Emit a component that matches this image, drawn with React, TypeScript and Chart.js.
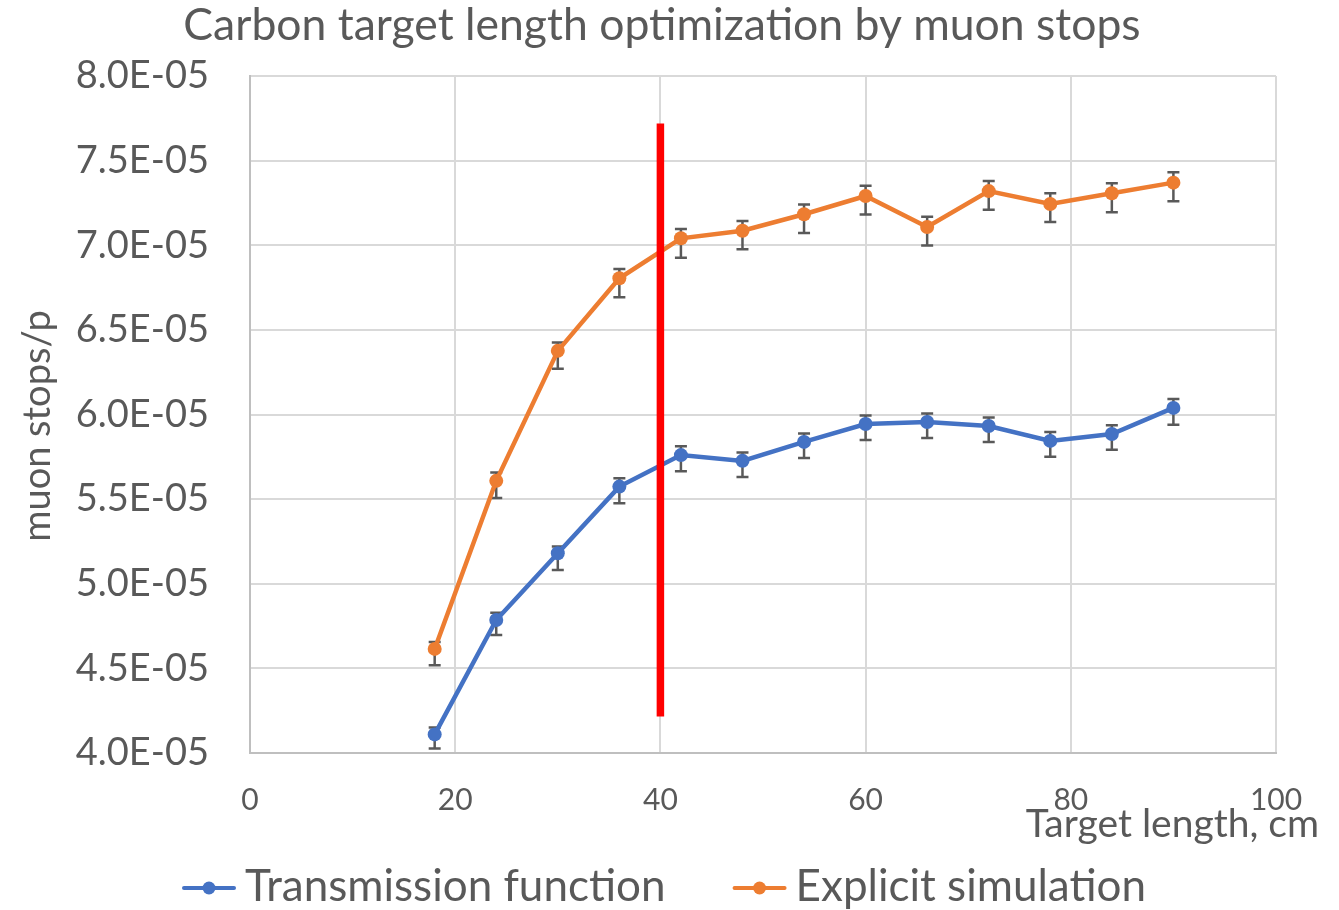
import React, { useEffect, useRef } from 'react';
import { Chart, registerables } from 'chart.js';

Chart.register(...registerables);

const FONT = 'Lato, "Noto Sans", sans-serif';
const TEXT = '#595959';

const chartTitle = 'Carbon target length optimization by muon stops';
const xAxisTitle = 'Target length, cm';
const yAxisTitle = 'muon stops/p';

const seriesNames = ['Transmission function', 'Explicit simulation'];
const seriesColors = ['#4472C4', '#ED7D31'];

// target length, cm
const targetLength = [18, 24, 30, 36, 42, 48, 54, 60, 66, 72, 78, 84, 90];

// muon stops per proton
const transmission = [4.11e-5, 4.786e-5, 5.18e-5, 5.574e-5, 5.76e-5, 5.726e-5, 5.838e-5, 5.944e-5, 5.956e-5, 5.932e-5, 5.844e-5, 5.885e-5, 6.039e-5];
const transmissionErrPlus = [0.04e-5, 0.043e-5, 0.04e-5, 0.05e-5, 0.053e-5, 0.05e-5, 0.05e-5, 0.05e-5, 0.05e-5, 0.05e-5, 0.052e-5, 0.052e-5, 0.053e-5];
const transmissionErrMinus = [0.083e-5, 0.089e-5, 0.099e-5, 0.098e-5, 0.095e-5, 0.095e-5, 0.095e-5, 0.095e-5, 0.095e-5, 0.095e-5, 0.093e-5, 0.093e-5, 0.1e-5];

const explicit = [4.615e-5, 5.608e-5, 6.376e-5, 6.805e-5, 7.041e-5, 7.086e-5, 7.183e-5, 7.291e-5, 7.108e-5, 7.32e-5, 7.244e-5, 7.307e-5, 7.37e-5];
const explicitErrPlus = [0.041e-5, 0.049e-5, 0.05e-5, 0.055e-5, 0.055e-5, 0.057e-5, 0.058e-5, 0.06e-5, 0.06e-5, 0.06e-5, 0.063e-5, 0.059e-5, 0.061e-5];
const explicitErrMinus = [0.097e-5, 0.102e-5, 0.105e-5, 0.112e-5, 0.115e-5, 0.11e-5, 0.11e-5, 0.11e-5, 0.11e-5, 0.11e-5, 0.106e-5, 0.112e-5, 0.11e-5];

// chosen target length marker
const optimumLength = 40;
const optimumRange = [4.215e-5, 7.72e-5];

// axes
const xMin = 0;
const xMax = 100;
const xStep = 20;
const yMin = 4.0e-5;
const yMax = 8.0e-5;
const yStep = 0.5e-5;

function sci(v: number): string {
  if (v === 0) return '0.0E+00';
  let e = Math.floor(Math.log10(Math.abs(v)));
  let m = v / Math.pow(10, e);
  if (Math.abs(m) >= 9.95) {
    m /= 10;
    e += 1;
  }
  return `${m.toFixed(1)}E${e < 0 ? '-' : '+'}${String(Math.abs(e)).padStart(2, '0')}`;
}

const errorBarPlugin = {
  id: 'errorBars',
  beforeDatasetsDraw(chart: any) {
    const { ctx } = chart;
    const xs = chart.scales.x;
    const ys = chart.scales.y;
    ctx.save();
    ctx.strokeStyle = '#595959';
    ctx.lineWidth = 2.5;
    chart.data.datasets.forEach((ds: any, i: number) => {
      if (!ds.errPlus || !chart.isDatasetVisible(i)) return;
      ds.data.forEach((p: any, j: number) => {
        const px = xs.getPixelForValue(p.x);
        const top = ys.getPixelForValue(p.y + ds.errPlus[j]);
        const bot = ys.getPixelForValue(p.y - ds.errMinus[j]);
        const cap = 6;
        ctx.beginPath();
        ctx.moveTo(px, top);
        ctx.lineTo(px, bot);
        ctx.moveTo(px - cap, top);
        ctx.lineTo(px + cap, top);
        ctx.moveTo(px - cap, bot);
        ctx.lineTo(px + cap, bot);
        ctx.stroke();
      });
    });
    ctx.restore();
  },
};

const textPlugin = {
  id: 'texts',
  afterDraw(chart: any) {
    const { ctx } = chart;
    ctx.save();
    ctx.fillStyle = TEXT;
    ctx.textBaseline = 'alphabetic';

    // chart title
    ctx.font = `44.5px ${FONT}`;
    ctx.textAlign = 'center';
    ctx.fillText(chartTitle, 662, 40);

    // x axis title
    ctx.font = `39px ${FONT}`;
    ctx.textAlign = 'right';
    ctx.fillText(xAxisTitle, 1319, 837);

    // y axis title
    ctx.save();
    ctx.translate(50, 426);
    ctx.rotate(-Math.PI / 2);
    ctx.textAlign = 'center';
    ctx.font = `38px ${FONT}`;
    ctx.fillText(yAxisTitle, 0, 0);
    ctx.restore();

    // legend
    ctx.font = `44px ${FONT}`;
    const items = chart.data.datasets.filter((d: any) => d.inLegend);
    const iconW = 50;
    const gap = 11;
    const spacing = 69;
    const widths = items.map((d: any) => iconW + gap + ctx.measureText(d.label).width);
    const total = widths.reduce((a: number, b: number) => a + b, 0) + spacing * (items.length - 1);
    let x = 665 - total / 2;
    const baseY = 901;
    const cy = baseY - 13;
    items.forEach((d: any, i: number) => {
      ctx.strokeStyle = d.borderColor;
      ctx.lineWidth = 4;
      ctx.lineCap = 'round';
      ctx.beginPath();
      ctx.moveTo(x, cy);
      ctx.lineTo(x + iconW, cy);
      ctx.stroke();
      ctx.fillStyle = d.borderColor;
      ctx.beginPath();
      ctx.arc(x + iconW / 2, cy, 6.5, 0, Math.PI * 2);
      ctx.fill();
      ctx.fillStyle = TEXT;
      ctx.textAlign = 'left';
      ctx.fillText(d.label, x + iconW + gap, baseY);
      x += widths[i] + spacing;
    });
    ctx.restore();
  },
};

function makeSeries(label: string, color: string, values: number[], plus: number[], minus: number[], order: number) {
  return {
    label,
    data: targetLength.map((t, i) => ({ x: t, y: values[i] })),
    errPlus: plus,
    errMinus: minus,
    inLegend: true,
    borderColor: color,
    backgroundColor: color,
    pointBackgroundColor: color,
    pointBorderColor: color,
    pointBorderWidth: 0,
    pointRadius: 7,
    borderWidth: 4.5,
    tension: 0,
    order,
  };
}

export default function App() {
  const ref = useRef<HTMLCanvasElement>(null);

  useEffect(() => {
    if (!ref.current) return;
    const grid = { color: '#d9d9d9', lineWidth: 2, drawTicks: false };
    const border = { color: '#bfbfbf', width: 2 };
    const chart = new Chart(ref.current, {
      type: 'line',
      data: {
        datasets: [
          {
            label: 'Chosen length',
            data: [
              { x: optimumLength, y: optimumRange[1] },
              { x: optimumLength, y: optimumRange[0] },
            ],
            borderColor: '#FF0000',
            backgroundColor: '#FF0000',
            borderWidth: 7.5,
            pointRadius: 0,
            order: 0,
          } as any,
          makeSeries(seriesNames[0], seriesColors[0], transmission, transmissionErrPlus, transmissionErrMinus, 1),
          makeSeries(seriesNames[1], seriesColors[1], explicit, explicitErrPlus, explicitErrMinus, 2),
        ],
      },
      options: {
        responsive: false,
        animation: false,
        layout: { padding: 0 },
        plugins: {
          legend: { display: false },
          title: { display: false },
          tooltip: { enabled: false },
        },
        scales: {
          x: {
            type: 'linear',
            min: xMin,
            max: xMax,
            ticks: {
              stepSize: xStep,
              font: { family: FONT, size: 30 },
              color: TEXT,
              padding: 29,
            },
            grid,
            border,
            afterFit: (s: any) => {
              s.height = 157;
              s.paddingRight = 63;
              s.paddingLeft = 0;
            },
          },
          y: {
            type: 'linear',
            min: yMin,
            max: yMax,
            ticks: {
              stepSize: yStep,
              font: { family: FONT, size: 38 },
              color: TEXT,
              padding: 41,
              callback: (v: any) => sci(Number(v)),
            },
            grid,
            border,
            afterFit: (s: any) => {
              s.width = 250;
              s.paddingTop = 76;
              s.paddingBottom = 0;
            },
          },
        },
      } as any,
      plugins: [errorBarPlugin, textPlugin],
    });
    return () => chart.destroy();
  }, []);

  return (
    <div style={{ position: 'fixed', left: 0, top: 0, width: 1339, height: 910, background: '#fff' }}>
      <canvas ref={ref} width={1339} height={910} style={{ display: 'block' }} />
    </div>
  );
}
